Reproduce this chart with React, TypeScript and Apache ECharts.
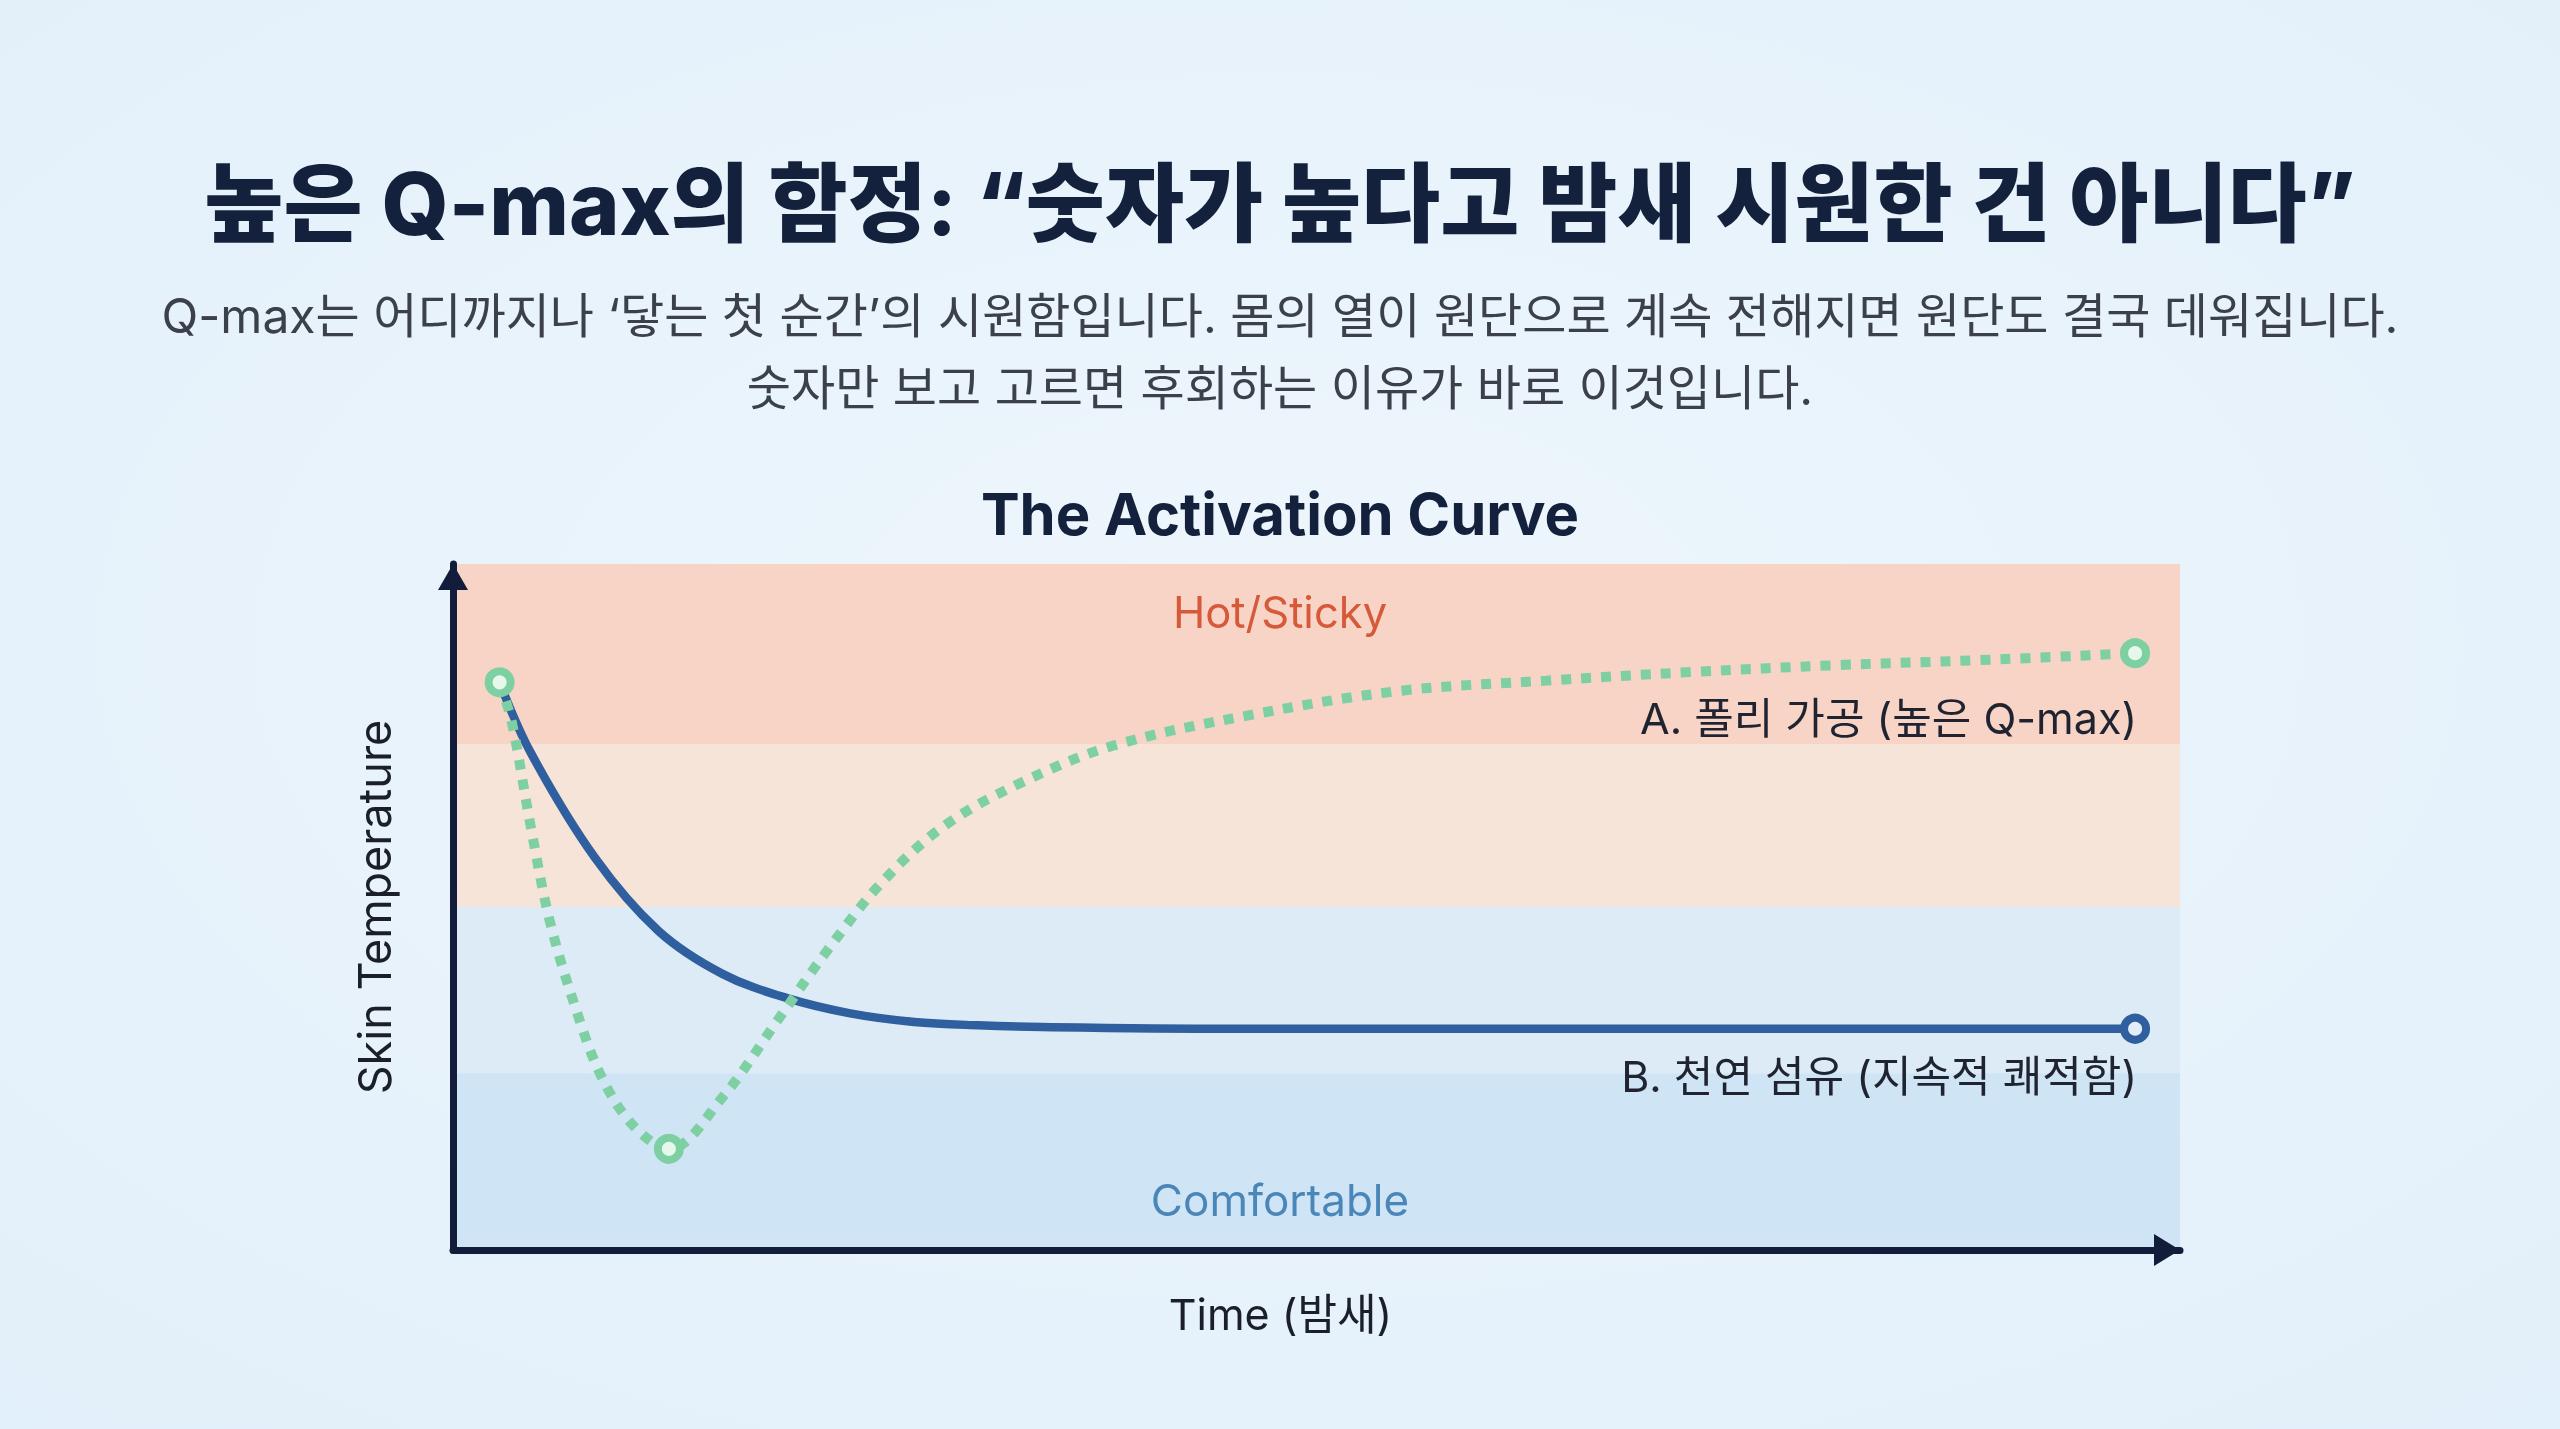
import { useEffect, useRef } from "react";
import * as echarts from "echarts";

// Time axis runs 0-100, skin temperature 0-4
const polyTime = [2.7, 3.4, 4.5, 5.6, 7.1, 8.6, 10.4, 12.5, 15.6, 18.8, 21.7, 24.8, 28.4, 32.8, 38.2, 46.2, 54.8, 63.3, 71.7, 80.1, 88.5, 97.4];
const polyTemp = [3.31, 3.08, 2.47, 1.92, 1.41, 1.01, 0.73, 0.59, 0.89, 1.34, 1.75, 2.14, 2.47, 2.72, 2.94, 3.12, 3.26, 3.32, 3.37, 3.41, 3.44, 3.48];
const polyMarked = [0, 7, 21];

const naturalTime = [2.7, 4.5, 8.2, 11.9, 15.6, 19.3, 23.0, 26.7, 30.4, 34.1, 45, 60, 75, 90, 97.4];
const naturalTemp = [3.31, 2.9, 2.29, 1.86, 1.61, 1.47, 1.38, 1.33, 1.31, 1.3, 1.29, 1.29, 1.29, 1.29, 1.29];
const naturalMarked = [14];

const zoneFrom = [2.95, 2.0, 1.03, 0];
const zoneTo = [4, 2.95, 2.0, 1.03];
const zoneColors = ["#F8D4C7", "#F7E4D9", "#DCEBF6", "#CFE5F5"];

const seriesNames = ["A. 폴리 가공 (높은 Q-max)", "B. 천연 섬유 (지속적 쾌적함)"];

const FONT = "Inter, 'Noto Sans CJK KR', sans-serif";
const NAVY = "#14213D";
const GREEN = "#7ED0A2";
const BLUE = "#2F5F9F";

function buildData(xs: number[], ys: number[], marked: number[], color: string, fill: string, labelText: string, labelDy: number) {
  return xs.map((x, i) => {
    const item: any = { value: [x, ys[i]] };
    if (marked.includes(i)) {
      item.symbol = "circle";
      item.symbolSize = 22;
      item.itemStyle = { color: fill, borderColor: color, borderWidth: 8 };
    }
    if (i === xs.length - 1) {
      item.label = {
        show: true,
        formatter: labelText,
        position: [17, labelDy],
        align: "right",
        verticalAlign: "middle",
        fontFamily: FONT,
        fontSize: 43,
        color: "#1F2430",
      };
    }
    return item;
  });
}

export default function App() {
  const chartRef = useRef<HTMLDivElement>(null);

  useEffect(() => {
    if (!chartRef.current) return;
    const chart = echarts.init(chartRef.current, null, { renderer: "svg" });

    chart.setOption({
      animation: false,
      backgroundColor: {
        type: "radial",
        x: 0.5,
        y: 0.45,
        r: 0.8,
        colorStops: [
          { offset: 0, color: "#EEF6FC" },
          { offset: 1, color: "#E1EFFA" },
        ],
      },
      title: [
        {
          text: "높은 Q-max의 함정: “숫자가 높다고 밤새 시원한 건 아니다”",
          left: "center",
          top: 149,
          textStyle: { fontFamily: FONT, fontSize: 86, fontWeight: 800, color: NAVY, lineHeight: 100 },
        },
        {
          text: "Q-max는 어디까지나 ‘닿는 첫 순간’의 시원함입니다. 몸의 열이 원단으로 계속 전해지면 원단도 결국 데워집니다.",
          left: "center",
          top: 276,
          textStyle: { fontFamily: FONT, fontSize: 48, fontWeight: 400, color: "#3B404A", lineHeight: 68 },
        },
        {
          text: "숫자만 보고 고르면 후회하는 이유가 바로 이것입니다.",
          left: "center",
          top: 348,
          textStyle: { fontFamily: FONT, fontSize: 48, fontWeight: 400, color: "#3B404A", lineHeight: 68 },
        },
        {
          text: "The Activation Curve",
          left: "center",
          top: 477,
          textStyle: { fontFamily: FONT, fontSize: 58, fontWeight: 700, color: NAVY, lineHeight: 64 },
        },
      ],
      grid: { left: 453, right: 380, top: 564, bottom: 179, containLabel: false },
      xAxis: {
        type: "value",
        min: 0,
        max: 100,
        z: 10,
        name: "Time (밤새)",
        nameLocation: "middle",
        nameGap: 42,
        nameTextStyle: { fontFamily: FONT, fontSize: 43, color: "#1A1F2A", padding: [0, 72, 0, 0] },
        axisLine: {
          show: true,
          lineStyle: { color: "#111D3A", width: 7 },
          symbol: ["none", "triangle"],
          symbolSize: [32, 26],
          symbolOffset: [0, -13],
        },
        axisTick: { show: false },
        axisLabel: { show: false },
        splitLine: { show: false },
      },
      yAxis: {
        type: "value",
        min: 0,
        max: 4,
        z: 10,
        name: "Skin Temperature",
        nameLocation: "middle",
        nameGap: 56,
        nameTextStyle: { fontFamily: FONT, fontSize: 45, color: "#1A1F2A" },
        axisLine: {
          show: true,
          lineStyle: { color: "#111D3A", width: 7 },
          symbol: ["none", "triangle"],
          symbolSize: [30, 26],
          symbolOffset: [0, -13],
        },
        axisTick: { show: false },
        axisLabel: { show: false },
        splitLine: { show: false },
      },
      graphic: [
        {
          type: "text",
          left: "center",
          top: 590,
          z: 5,
          style: { text: "Hot/Sticky", fontFamily: FONT, fontSize: 43.5, fill: "#D6593A" },
        },
        {
          type: "text",
          left: "center",
          top: 1178,
          z: 5,
          style: { text: "Comfortable", fontFamily: FONT, fontSize: 44, fill: "#4A86B8" },
        },
      ],
      series: [
        {
          name: seriesNames[1],
          type: "line",
          smooth: 0.35,
          symbol: "none",
          z: 3,
          lineStyle: { color: BLUE, width: 8.5 },
          itemStyle: { color: BLUE },
          data: buildData(naturalTime, naturalTemp, naturalMarked, BLUE, "#E3EEF8", seriesNames[1], 62),
          markArea: {
            silent: true,
            z: 1,
            data: zoneFrom.map((from, i) => [
              { yAxis: from, itemStyle: { color: zoneColors[i] } },
              { yAxis: zoneTo[i] },
            ]),
          },
        },
        {
          name: seriesNames[0],
          type: "line",
          smooth: 0.35,
          symbol: "none",
          z: 4,
          lineStyle: { color: GREEN, width: 10, type: [10, 10] },
          itemStyle: { color: GREEN },
          data: buildData(polyTime, polyTemp, polyMarked, GREEN, "#E6F7EC", seriesNames[0], 80),
        },
      ],
    });

    return () => {
      chart.dispose();
    };
  }, []);

  return (
    <div
      ref={chartRef}
      style={{ position: "fixed", left: 0, top: 0, width: "100vw", height: "100vh" }}
    />
  );
}
